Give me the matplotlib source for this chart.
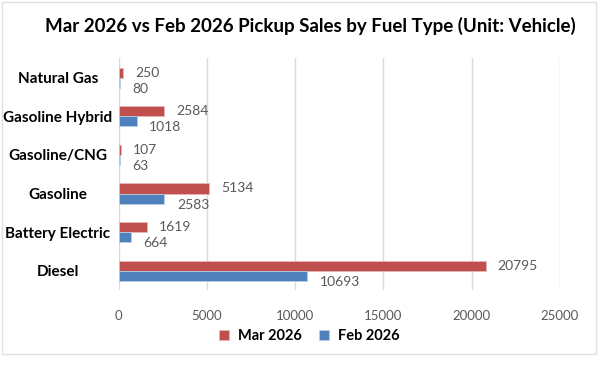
import numpy as np
import matplotlib
matplotlib.use('Agg')
import matplotlib.pyplot as plt
from matplotlib.patches import Rectangle

# data, top to bottom as shown
categories = ['Natural Gas', 'Gasoline Hybrid', 'Gasoline/CNG', 'Gasoline', 'Battery Electric', 'Diesel']
mar_2026 = [250, 2584, 107, 5134, 1619, 20795]
feb_2026 = [80, 1018, 63, 2583, 664, 10693]
x_ticks = [0, 5000, 10000, 15000, 20000, 25000]

red = '#C0504D'
blue = '#4F81BD'
grid_c = '#D9D9D9'
label_c = '#595959'

plt.rcParams['font.family'] = ['Lato', 'DejaVu Sans']

fig = plt.figure(figsize=(6, 3.71), dpi=100)
ax = fig.add_axes([0.198, 0.218, 0.735, 0.625])

n = len(categories)
y = np.arange(n)
h = 0.26

bars_mar = ax.barh(y - h / 2, mar_2026, height=h, color=red, edgecolor='#E6B8B7', linewidth=0.6, label='Mar 2026', zorder=3)
bars_feb = ax.barh(y + h / 2, feb_2026, height=h, color=blue, edgecolor='#B9CDE5', linewidth=0.6, label='Feb 2026', zorder=3)

for b, v in zip(bars_mar, mar_2026):
    ax.annotate(str(v), (b.get_width(), b.get_y() + b.get_height() / 2),
                xytext=(8.5, 0), textcoords='offset points',
                ha='left', va='center', fontsize=10, color=label_c)
for b, v in zip(bars_feb, feb_2026):
    ax.annotate(str(v), (b.get_width(), b.get_y() + b.get_height() / 2),
                xytext=(9, -4.5), textcoords='offset points',
                ha='left', va='center', fontsize=10, color=label_c)

ax.set_ylim(n - 0.5, -0.5)
ax.set_xlim(0, 25000)
ax.set_xticks(x_ticks)
ax.set_xticklabels([str(t) for t in x_ticks])
ax.set_yticks(y)
ax.set_yticklabels(categories, fontsize=11, fontweight='bold', color='black', ha='center')
ax.tick_params(axis='y', length=0, pad=44)
ax.tick_params(axis='x', length=0, pad=14, labelsize=9.5, labelcolor=label_c)

ax.grid(axis='x', color=grid_c, linewidth=1, zorder=0)
for s in ax.spines.values():
    s.set_visible(False)

fig.text(0.518, 0.93, 'Mar 2026 vs Feb 2026 Pickup Sales by Fuel Type (Unit: Vehicle)',
         ha='center', va='center', fontsize=13.5, fontweight='bold')

fig.legend(handles=[bars_mar, bars_feb], labels=['Mar 2026', 'Feb 2026'],
           loc='center', bbox_to_anchor=(0.515, 0.094), ncol=2, frameon=False,
           prop={'size': 10.5, 'weight': 'bold'}, handlelength=0.7, handleheight=0.7,
           handletextpad=0.6, columnspacing=1.2)

# light frame around the chart area
fig.patches.append(Rectangle((0.004, 0.045), 0.99, 0.95, transform=fig.transFigure,
                             fill=False, edgecolor='#E0E0E0', linewidth=1))

fig.savefig('out.png', dpi=100)
